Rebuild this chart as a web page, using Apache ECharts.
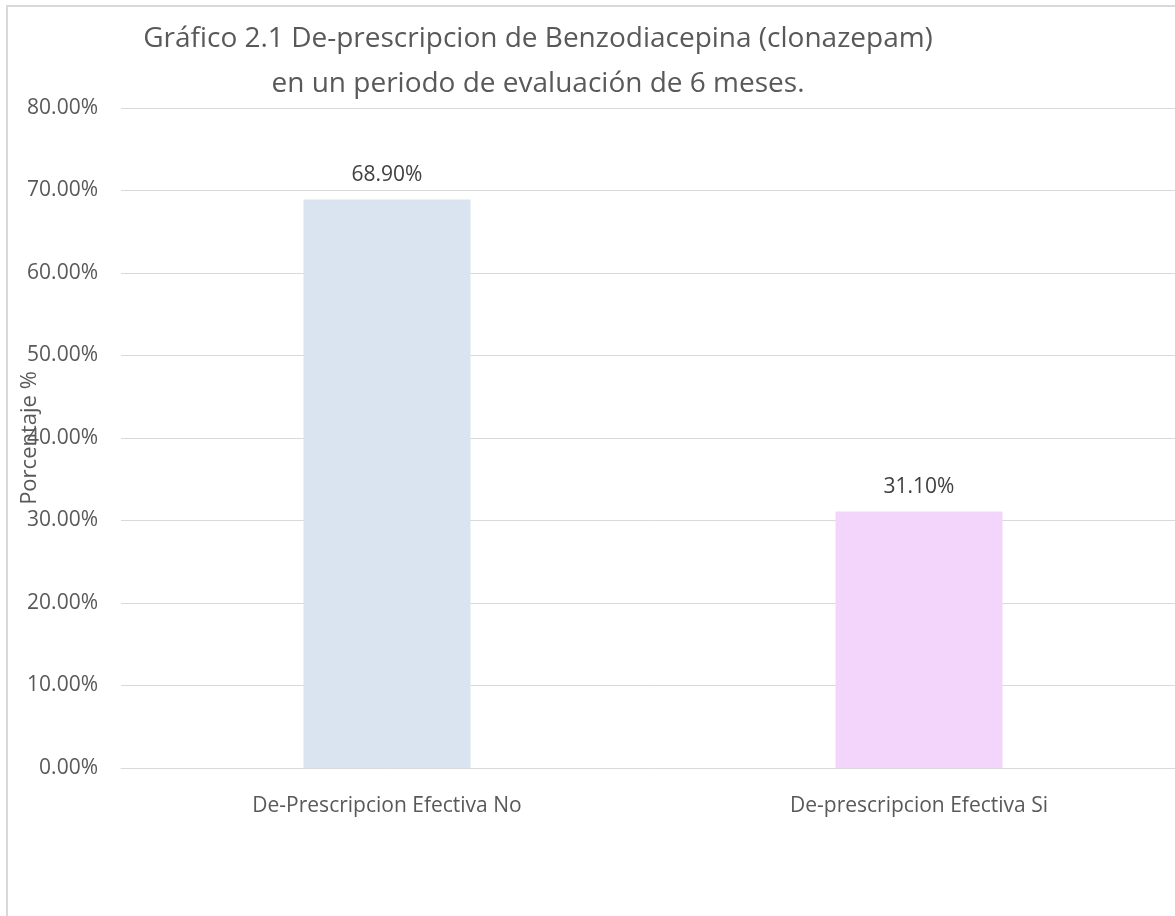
<!DOCTYPE html>
<html>
<head>
<meta charset="utf-8">
<script src="https://cdn.jsdelivr.net/npm/echarts@6/dist/echarts.min.js"></script>
<style>
  html, body { margin: 0; padding: 0; background: #fff; }
  #chart { width: 1175px; height: 916px; }
</style>
</head>
<body>
<div id="chart"></div>
<script>
  // datos del grafico
  var categorias = ['De-Prescripcion Efectiva No', 'De-prescripcion Efectiva Si'];
  var porcentajes = [68.9, 31.1];
  var colores = ['#dae3f0', '#f3d5fb'];
  var titulo = 'Gráfico 2.1 De-prescripcion de Benzodiacepina (clonazepam)\nen un periodo de evaluación de 6 meses.';

  var fuente = '"Open Sans", "Noto Sans", sans-serif';

  var myChart = echarts.init(document.getElementById('chart'));

  let option = {
    backgroundColor: '#fff',
    animation: false,
    title: {
      text: titulo,
      left: 533,
      top: 12,
      textAlign: 'center',
      textStyle: {
        color: '#595959',
        fontFamily: fuente,
        fontWeight: 'normal',
        fontSize: 28,
        lineHeight: 45
      }
    },
    graphic: [
      {
        // borde del area del grafico
        type: 'rect',
        shape: { x: 7, y: 6, width: 1300, height: 1000 },
        style: { fill: 'none', stroke: '#d9d9d9', lineWidth: 2 },
        silent: true
      }
    ],
    grid: {
      left: 121,
      width: 1064,
      top: 108,
      bottom: 148,
      outerBoundsMode: 'none',
      containLabel: false
    },
    xAxis: {
      type: 'category',
      data: categorias,
      axisTick: { show: false },
      axisLine: { lineStyle: { color: '#d9d9d9', width: 1 } },
      axisLabel: {
        color: '#595959',
        fontFamily: fuente,
        fontSize: 21,
        margin: 28
      }
    },
    yAxis: {
      type: 'value',
      min: 0,
      max: 80,
      interval: 10,
      name: 'Porcentaje %',
      nameLocation: 'middle',
      nameGap: 80,
      nameMoveOverlap: false,
      nameTextStyle: {
        color: '#595959',
        fontFamily: fuente,
        fontSize: 22
      },
      axisLine: { show: false },
      axisTick: { show: false },
      splitLine: { lineStyle: { color: '#d9d9d9', width: 1 } },
      axisLabel: {
        color: '#595959',
        fontFamily: fuente,
        fontSize: 21,
        margin: 23,
        formatter: function (v) { return v.toFixed(2) + '%'; }
      }
    },
    series: [
      {
        type: 'bar',
        barWidth: 167,
        data: porcentajes.map(function (v, i) {
          return { value: v, itemStyle: { color: colores[i] } };
        }),
        label: {
          show: true,
          position: 'top',
          distance: 14,
          color: '#404040',
          fontFamily: fuente,
          fontSize: 21,
          formatter: function (p) { return p.value.toFixed(2) + '%'; }
        }
      }
    ]
  };

  myChart.setOption(option);
</script>
</body>
</html>
